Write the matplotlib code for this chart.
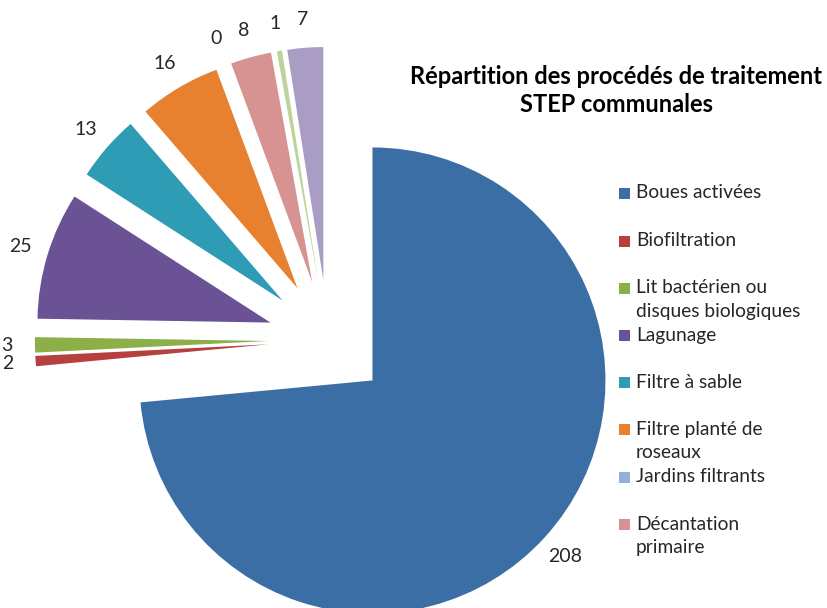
import matplotlib
matplotlib.use('Agg')
import matplotlib.pyplot as plt
from matplotlib.patches import Rectangle

plt.rcParams['font.family'] = ['Lato', 'DejaVu Sans']

categories = ['Boues activées', 'Biofiltration', 'Lit bactérien ou\ndisques biologiques',
              'Lagunage', 'Filtre à sable', 'Filtre planté de\nroseaux',
              'Jardins filtrants', 'Décantation\nprimaire', 'Autre 1', 'Autre 2']
counts = [208, 2, 3, 25, 13, 16, 0, 8, 1, 7]
colors = ['#3B6EA5', '#B5403D', '#8CAF48', '#6A5294', '#2E9CB4',
          '#E8812F', '#93B1D6', '#D69391', '#BCD39A', '#A99DC6']

# only the first eight entries fit in the legend area
legend_y = [193, 241, 288, 335, 382, 429, 477, 524]

W, H = 827, 608
R = 233.0          # pie radius in pixels
cx, cy = 328, 340  # pie centre in pixels (from top-left)

fig = plt.figure(figsize=(W / 100, H / 100), dpi=100)
fig.patch.set_facecolor('white')
ax = fig.add_axes([0, 0, 1, 1])

wedges, texts = ax.pie(counts, colors=colors, startangle=90, counterclock=False,
                       explode=[0.258] * len(counts), labels=[str(c) for c in counts],
                       labeldistance=1.12, radius=1.0,
                       wedgeprops=dict(linewidth=0, antialiased=True),
                       textprops=dict(fontsize=14, color='#262626'))
for t in texts:
    t.set_ha('center')
    t.set_va('center')

# pixel-aligned limits: 1 data unit == R pixels
ax.set_xlim(-cx / R, (W - cx) / R)
ax.set_ylim(-(H - cy) / R, cy / R)
ax.set_aspect('auto')
ax.axis('off')

def px(x, y):
    return x / W, 1 - y / H

fig.text(*px(616, 76), 'Répartition des procédés de traitement', ha='center', va='center',
         fontsize=17, fontweight='bold', color='black')
fig.text(*px(616, 105), 'STEP communales', ha='center', va='center',
         fontsize=17, fontweight='bold', color='black')

for name, col, y in zip(categories, colors, legend_y):
    x0, y0 = px(619, y + 6)
    fig.patches.append(Rectangle((x0, y0), 11 / W, 11 / H, transform=fig.transFigure,
                                 facecolor=col, edgecolor='none'))
    lines = name.split('\n')
    for i, line in enumerate(lines):
        fig.text(*px(636, y + i * 24), line, ha='left', va='center',
                 fontsize=13.8, color='#262626')

fig.savefig('out.png', dpi=100, facecolor='white')
